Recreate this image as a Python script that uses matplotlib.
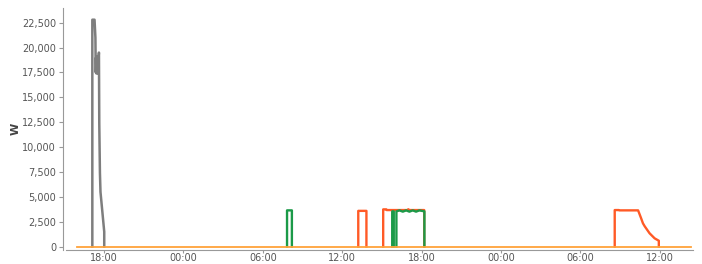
import matplotlib
matplotlib.use("Agg")
import matplotlib.pyplot as plt
import matplotlib.dates as mdates
import numpy as np
import pandas as pd

# ---- data ----  (None separates pulses)
grey_times = ["2024-05-01 17:07:00", "2024-05-01 17:07:01", "2024-05-01 17:17:00",
              "2024-05-01 17:21:00", "2024-05-01 17:22:30", "2024-05-01 17:24:00",
              "2024-05-01 17:25:30", "2024-05-01 17:27:00", "2024-05-01 17:28:30",
              "2024-05-01 17:30:00", "2024-05-01 17:31:30", "2024-05-01 17:33:00",
              "2024-05-01 17:34:30", "2024-05-01 17:36:00", "2024-05-01 17:37:00",
              "2024-05-01 17:38:30", "2024-05-01 17:41:30", "2024-05-01 17:44:00",
              "2024-05-01 18:01:00", "2024-05-01 18:01:01"]
grey_vals = [0, 22800, 22800, 21000, 17500, 19000, 17400, 19000, 17500, 19100,
             17400, 19000, 17500, 19200, 19500, 12400, 7400, 5500, 1500, 0]

green_times = ["2024-05-02 07:50:00", "2024-05-02 07:50:01", "2024-05-02 08:12:00",
               "2024-05-02 08:12:01", "2024-05-02 08:12:02",
               "2024-05-02 15:47:00", "2024-05-02 15:47:01", "2024-05-02 15:54:00",
               "2024-05-02 15:54:01", "2024-05-02 15:54:02",
               "2024-05-02 16:06:00", "2024-05-02 16:06:01",
               "2024-05-02 16:20:00", "2024-05-02 16:35:00", "2024-05-02 16:50:00",
               "2024-05-02 17:05:00", "2024-05-02 17:20:00", "2024-05-02 17:35:00",
               "2024-05-02 17:50:00", "2024-05-02 18:13:00", "2024-05-02 18:13:01"]
green_vals = [0, 3650, 3650, 0, None,
              0, 3550, 3550, 0, None,
              0, 3550,
              3650, 3520, 3650, 3520, 3650, 3520, 3650, 3550, 0]

orange_times = ["2024-05-02 13:13:00", "2024-05-02 13:13:01", "2024-05-02 13:50:00",
                "2024-05-02 13:50:01", "2024-05-02 13:50:02",
                "2024-05-02 15:06:00", "2024-05-02 15:06:01", "2024-05-02 15:20:00",
                "2024-05-02 15:22:00", "2024-05-02 16:55:00", "2024-05-02 17:00:00",
                "2024-05-02 17:05:00", "2024-05-02 18:12:00", "2024-05-02 18:12:01",
                "2024-05-02 18:12:02",
                "2024-05-03 08:36:00", "2024-05-03 08:36:01", "2024-05-03 08:55:00",
                "2024-05-03 08:57:00", "2024-05-03 10:22:00", "2024-05-03 10:35:00",
                "2024-05-03 10:44:00", "2024-05-03 10:52:00", "2024-05-03 11:14:00",
                "2024-05-03 11:37:00", "2024-05-03 11:56:00", "2024-05-03 11:56:01"]
orange_vals = [0, 3600, 3600, 0, None,
               0, 3750, 3750, 3680, 3680, 3760, 3680, 3680, 0, None,
               0, 3680, 3680, 3650, 3650, 2900, 2350, 2050, 1350, 840, 600, 0]

base_times = ["2024-05-01 15:58:00", "2024-05-03 14:23:00"]
base_vals = [0, 0]

yticks = [0, 2500, 5000, 7500, 10000, 12500, 15000, 17500, 20000, 22500]


def vals(v):
    return np.array([np.nan if x is None else x for x in v], dtype=float)


# ---- plot ----
fig = plt.figure(figsize=(7.02, 2.64), dpi=100)
ax = fig.add_axes([63/702, 14/264, 630/702, 242/264])

ax.plot(pd.to_datetime(grey_times), vals(grey_vals), color="#777777", lw=1.8, alpha=0.95, zorder=2)
ax.plot(pd.to_datetime(orange_times), vals(orange_vals), color="#ff5a26", lw=1.7, zorder=3)
ax.plot(pd.to_datetime(green_times), vals(green_vals), color="#1b9a48", lw=1.7, zorder=4)
ax.plot(pd.to_datetime(base_times), base_vals, color="#ffa33a", lw=1.3, zorder=5)

x0 = mdates.date2num(pd.Timestamp("2024-05-01 14:54"))
x1 = mdates.date2num(pd.Timestamp("2024-05-03 14:31"))
ax.set_xlim(x0, x1)
ax.set_ylim(-331, 23975)

ax.set_yticks(yticks)
ax.set_yticklabels([f"{v:,}" for v in yticks])
ax.xaxis.set_major_locator(mdates.HourLocator(byhour=[0, 6, 12, 18]))
ax.xaxis.set_major_formatter(mdates.DateFormatter("%H:%M"))

for s in ["top", "right"]:
    ax.spines[s].set_visible(False)
for s in ["left", "bottom"]:
    ax.spines[s].set_color("#999999")
    ax.spines[s].set_linewidth(0.8)
ax.spines["bottom"].set_bounds(mdates.date2num(pd.Timestamp("2024-05-01 15:08")), x1)

ax.tick_params(axis="both", colors="#999999", labelcolor="#555555", labelsize=7,
               width=0.8)
ax.tick_params(axis="y", length=3, pad=2)
ax.tick_params(axis="x", length=2, pad=0.3)
ax.set_ylabel("W", fontsize=8, fontweight="bold", color="#444444", labelpad=1)

fig.savefig("out.png", dpi=100)
